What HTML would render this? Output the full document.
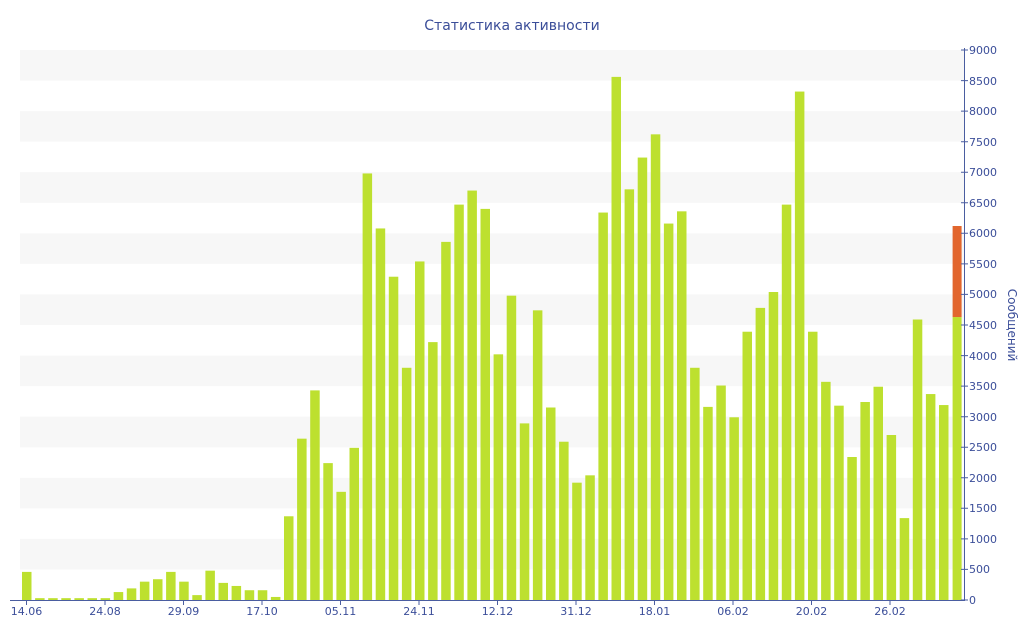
<!DOCTYPE html>
<html><head><meta charset="utf-8"><style>
html,body{margin:0;padding:0;background:#fff;}
svg{display:block;font-family:"DejaVu Sans","Liberation Sans",sans-serif;}
</style></head><body>
<svg width="1024" height="640" viewBox="0 0 1024 640" xmlns="http://www.w3.org/2000/svg">
<text x="512" y="30" text-anchor="middle" font-size="14" fill="#3b4e99">Статистика активности</text>
<g fill="#f7f7f7">
<rect x="20" y="50" width="944" height="30.6"/>
<rect x="20" y="111.1" width="944" height="30.6"/>
<rect x="20" y="172.2" width="944" height="30.6"/>
<rect x="20" y="233.3" width="944" height="30.6"/>
<rect x="20" y="294.4" width="944" height="30.6"/>
<rect x="20" y="355.6" width="944" height="30.6"/>
<rect x="20" y="416.7" width="944" height="30.6"/>
<rect x="20" y="477.8" width="944" height="30.6"/>
<rect x="20" y="538.9" width="944" height="30.6"/>
</g>
<g transform="translate(0,600) scale(1,-0.061111)" fill="#bde02f">
<rect x="22" y="0" width="9.5" height="460"/>
<rect x="35.1" y="0" width="9.5" height="30"/>
<rect x="48.2" y="0" width="9.5" height="30"/>
<rect x="61.3" y="0" width="9.5" height="30"/>
<rect x="74.4" y="0" width="9.5" height="30"/>
<rect x="87.5" y="0" width="9.5" height="30"/>
<rect x="100.6" y="0" width="9.5" height="30"/>
<rect x="113.7" y="0" width="9.5" height="130"/>
<rect x="126.8" y="0" width="9.5" height="190"/>
<rect x="139.9" y="0" width="9.5" height="300"/>
<rect x="153" y="0" width="9.5" height="340"/>
<rect x="166.1" y="0" width="9.5" height="460"/>
<rect x="179.2" y="0" width="9.5" height="300"/>
<rect x="192.3" y="0" width="9.5" height="80"/>
<rect x="205.4" y="0" width="9.5" height="480"/>
<rect x="218.5" y="0" width="9.5" height="280"/>
<rect x="231.6" y="0" width="9.5" height="230"/>
<rect x="244.7" y="0" width="9.5" height="160"/>
<rect x="257.8" y="0" width="9.5" height="160"/>
<rect x="270.9" y="0" width="9.5" height="50"/>
<rect x="284" y="0" width="9.5" height="1370"/>
<rect x="297.1" y="0" width="9.5" height="2640"/>
<rect x="310.2" y="0" width="9.5" height="3430"/>
<rect x="323.3" y="0" width="9.5" height="2240"/>
<rect x="336.4" y="0" width="9.5" height="1770"/>
<rect x="349.5" y="0" width="9.5" height="2490"/>
<rect x="362.6" y="0" width="9.5" height="6980"/>
<rect x="375.7" y="0" width="9.5" height="6080"/>
<rect x="388.8" y="0" width="9.5" height="5290"/>
<rect x="401.9" y="0" width="9.5" height="3800"/>
<rect x="415" y="0" width="9.5" height="5540"/>
<rect x="428.1" y="0" width="9.5" height="4220"/>
<rect x="441.2" y="0" width="9.5" height="5860"/>
<rect x="454.3" y="0" width="9.5" height="6470"/>
<rect x="467.4" y="0" width="9.5" height="6700"/>
<rect x="480.5" y="0" width="9.5" height="6400"/>
<rect x="493.6" y="0" width="9.5" height="4020"/>
<rect x="506.7" y="0" width="9.5" height="4980"/>
<rect x="519.8" y="0" width="9.5" height="2890"/>
<rect x="532.9" y="0" width="9.5" height="4740"/>
<rect x="546" y="0" width="9.5" height="3150"/>
<rect x="559.1" y="0" width="9.5" height="2590"/>
<rect x="572.2" y="0" width="9.5" height="1920"/>
<rect x="585.3" y="0" width="9.5" height="2040"/>
<rect x="598.4" y="0" width="9.5" height="6340"/>
<rect x="611.5" y="0" width="9.5" height="8560"/>
<rect x="624.6" y="0" width="9.5" height="6720"/>
<rect x="637.7" y="0" width="9.5" height="7240"/>
<rect x="650.8" y="0" width="9.5" height="7620"/>
<rect x="663.9" y="0" width="9.5" height="6160"/>
<rect x="677" y="0" width="9.5" height="6360"/>
<rect x="690.1" y="0" width="9.5" height="3800"/>
<rect x="703.2" y="0" width="9.5" height="3160"/>
<rect x="716.3" y="0" width="9.5" height="3510"/>
<rect x="729.4" y="0" width="9.5" height="2990"/>
<rect x="742.5" y="0" width="9.5" height="4390"/>
<rect x="755.6" y="0" width="9.5" height="4780"/>
<rect x="768.7" y="0" width="9.5" height="5040"/>
<rect x="781.8" y="0" width="9.5" height="6470"/>
<rect x="794.9" y="0" width="9.5" height="8320"/>
<rect x="808" y="0" width="9.5" height="4390"/>
<rect x="821.1" y="0" width="9.5" height="3570"/>
<rect x="834.2" y="0" width="9.5" height="3180"/>
<rect x="847.3" y="0" width="9.5" height="2340"/>
<rect x="860.4" y="0" width="9.5" height="3240"/>
<rect x="873.5" y="0" width="9.5" height="3490"/>
<rect x="886.6" y="0" width="9.5" height="2700"/>
<rect x="899.7" y="0" width="9.5" height="1340"/>
<rect x="912.8" y="0" width="9.5" height="4590"/>
<rect x="925.9" y="0" width="9.5" height="3370"/>
<rect x="939" y="0" width="9.5" height="3190"/>
<rect x="952.6" y="0" width="9" height="4630"/>
<rect x="952.6" y="4630" width="9" height="1490" fill="#e2662e"/>
</g>
<g stroke="#4a5da0" stroke-width="1" fill="none">
<line x1="10" y1="600.5" x2="964" y2="600.5"/>
<line x1="964.5" y1="48" x2="964.5" y2="601"/>
<path d="M26.5 600v5M105 600v5M183.5 600v5M262 600v5M340.5 600v5M419 600v5M497.5 600v5M576 600v5M654.5 600v5M733 600v5M811.5 600v5M890 600v5"/>
<path d="M961 50h7M961 80.6h7M961 111.1h7M961 141.7h7M961 172.2h7M961 202.8h7M961 233.3h7M961 263.9h7M961 294.4h7M961 325h7M961 355.6h7M961 386.1h7M961 416.7h7M961 447.2h7M961 477.8h7M961 508.3h7M961 538.9h7M961 569.4h7M961 600h7"/>
</g>
<g font-size="11" fill="#3b4e99" text-anchor="middle">
<text x="26.5" y="615">14.06</text>
<text x="105" y="615">24.08</text>
<text x="183.5" y="615">29.09</text>
<text x="262" y="615">17.10</text>
<text x="340.5" y="615">05.11</text>
<text x="419" y="615">24.11</text>
<text x="497.5" y="615">12.12</text>
<text x="576" y="615">31.12</text>
<text x="654.5" y="615">18.01</text>
<text x="733" y="615">06.02</text>
<text x="811.5" y="615">20.02</text>
<text x="890" y="615">26.02</text>
</g>
<g font-size="11" fill="#3b4e99">
<text x="969" y="54">9000</text>
<text x="969" y="85">8500</text>
<text x="969" y="115">8000</text>
<text x="969" y="146">7500</text>
<text x="969" y="176">7000</text>
<text x="969" y="207">6500</text>
<text x="969" y="237">6000</text>
<text x="969" y="268">5500</text>
<text x="969" y="298">5000</text>
<text x="969" y="329">4500</text>
<text x="969" y="360">4000</text>
<text x="969" y="390">3500</text>
<text x="969" y="421">3000</text>
<text x="969" y="451">2500</text>
<text x="969" y="482">2000</text>
<text x="969" y="512">1500</text>
<text x="969" y="543">1000</text>
<text x="969" y="573">500</text>
<text x="969" y="604">0</text>
</g>
<text transform="translate(1008,325) rotate(90)" text-anchor="middle" font-size="12" fill="#3b4e99">Сообщений</text>
</svg>
</body></html>
